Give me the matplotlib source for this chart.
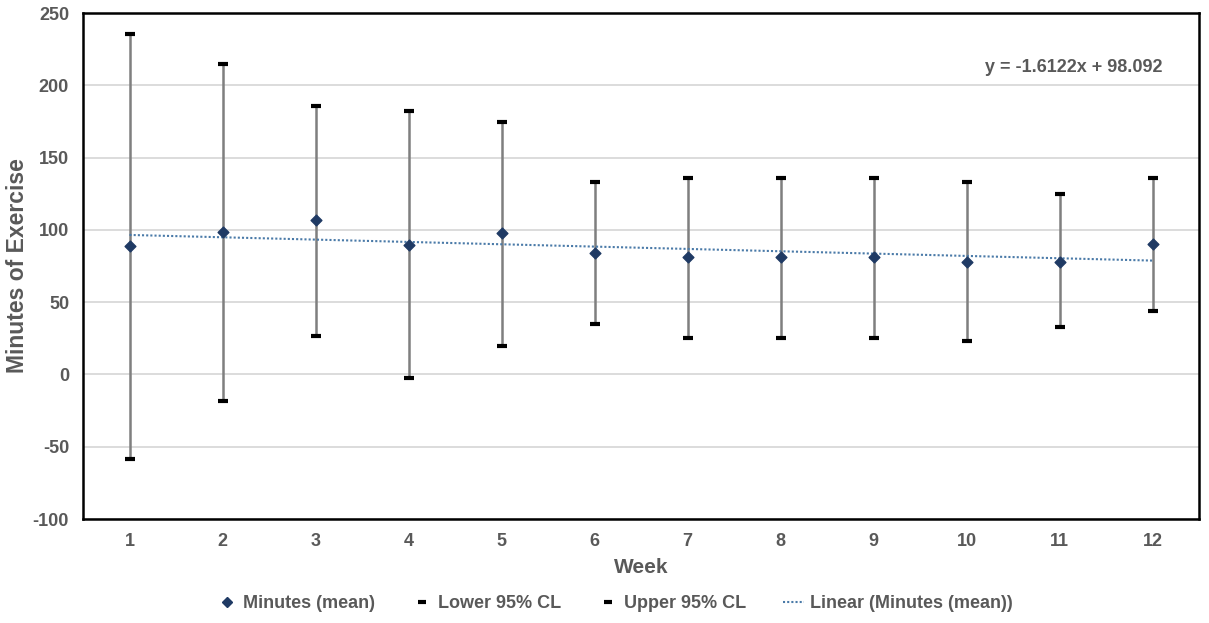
import numpy as np
import matplotlib.pyplot as plt
from matplotlib.lines import Line2D

plt.rcParams['font.family'] = ['Liberation Sans', 'DejaVu Sans']
plt.rcParams['axes.unicode_minus'] = False

# Weekly exercise minutes with 95% confidence limits
weeks = list(range(1, 13))
mean_minutes = [88.5, 98.2, 106.5, 89.2, 97.5, 83.7, 80.9, 80.9, 81.0, 78.0, 78.0, 90.0]
lower_cl = [-58.8, -18.7, 26.3, -2.8, 19.4, 34.6, 24.9, 24.9, 24.9, 22.8, 32.5, 43.6]
upper_cl = [235.8, 215.0, 186.0, 181.9, 174.3, 132.8, 136.2, 136.0, 136.0, 132.8, 124.5, 136.0]
trend_slope = -1.6122
trend_intercept = 98.092

GRAY_TXT = '#595959'


def styleAxes(ax):
    for side in ['top', 'right', 'left', 'bottom']:
        ax.spines[side].set_visible(True)
        ax.spines[side].set_color('black')
        ax.spines[side].set_linewidth(1.8)
    ax.tick_params(axis='both', length=0, colors=GRAY_TXT, labelsize=13, pad=10)
    for lbl in ax.get_xticklabels() + ax.get_yticklabels():
        lbl.set_fontweight('bold')


def main():
    fig = plt.figure(figsize=(12.09, 6.23), dpi=100)
    ax = fig.add_axes([83 / 1209, 1 - 519 / 623, (1199 - 83) / 1209, (519 - 13) / 623])

    ax.set_xlim(0.5, 12.5)
    ax.set_ylim(-100, 250)
    ax.set_yticks(range(-100, 251, 50))
    ax.set_xticks(weeks)

    # horizontal gridlines
    ax.yaxis.grid(True, color='#d9d9d9', linewidth=1.3)
    ax.set_axisbelow(True)

    # high-low lines between confidence limits
    ax.vlines(weeks, lower_cl, upper_cl, color='#7f7f7f', linewidth=1.8, zorder=2)

    # confidence limit caps
    ax.scatter(weeks, lower_cl, marker='_', s=60, linewidths=3, color='black', zorder=3)
    ax.scatter(weeks, upper_cl, marker='_', s=60, linewidths=3, color='black', zorder=3)

    # trend line
    xs = np.array([weeks[0], weeks[-1]])
    ax.plot(xs, trend_slope * xs + trend_intercept, color='#4a7aa8', linewidth=1.5,
            linestyle=(0, (1, 1)), zorder=4)

    # means
    ax.scatter(weeks, mean_minutes, marker='D', s=30, color='#1f3a64',
               edgecolors='#1f3a64', zorder=5)

    ax.text(0.967, 0.892, 'y = -1.6122x + 98.092', transform=ax.transAxes,
            ha='right', va='center', fontsize=13, fontweight='bold', color=GRAY_TXT)

    ax.set_ylabel('Minutes of Exercise', fontsize=16.5, fontweight='bold', color=GRAY_TXT)
    ax.yaxis.set_label_coords(-0.048, 0.5)
    ax.set_xlabel('Week', fontsize=15, fontweight='bold', color=GRAY_TXT, labelpad=6)
    styleAxes(ax)

    custom = [Line2D([0], [0], marker='D', color='#1f3a64', linestyle='none', markersize=5),
              Line2D([0], [0], marker='_', color='black', linestyle='none', markersize=6,
                     markeredgewidth=3),
              Line2D([0], [0], marker='_', color='black', linestyle='none', markersize=6,
                     markeredgewidth=3),
              Line2D([0], [0], color='#4a7aa8', linewidth=1.5, linestyle=(0, (1, 1)))]
    leg = fig.legend(custom, ['Minutes (mean)', 'Lower 95% CL', 'Upper 95% CL',
                              'Linear (Minutes (mean))'],
                     loc='center', bbox_to_anchor=(614 / 1209, 1 - 604 / 623), ncol=4,
                     frameon=False, fontsize=13, handlelength=1.2, handletextpad=0.3,
                     columnspacing=2.0)
    for t in leg.get_texts():
        t.set_color(GRAY_TXT)
        t.set_fontweight('bold')

    fig.savefig('out.png', dpi=100)


if __name__ == '__main__':
    main()
